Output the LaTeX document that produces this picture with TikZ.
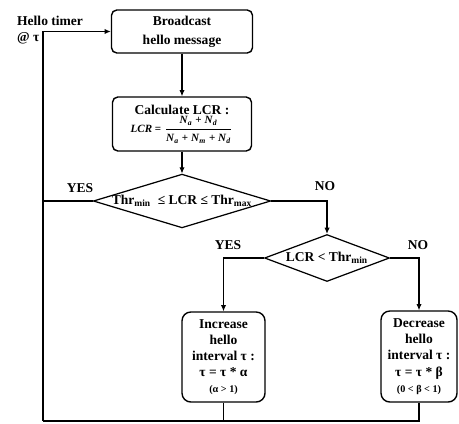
\documentclass[tikz,border=0pt]{standalone}
\usepackage{fontspec}
\setmainfont{Liberation Serif}
\usepackage{amsmath}
\usepackage{tikz}
\usetikzlibrary{shapes.geometric, arrows.meta, calc}
\tikzset{
	labeltext/.style={font=\fontsize{7.7}{9.2}\selectfont\bfseries}
}
\tikzset{
	flow/.style={line width=0.6pt}
}
\newcommand{\Nsub}[1]{\textit{N}\textsubscript{\textit{#1}}}

\begin{document}
\begin{tikzpicture}[x=0.02cm, y=-0.02cm]

              \tikzset{
                procnode/.style={
                    shape=rectangle,
                    rounded corners=3pt,
                    draw=black,
                    line width=0.8pt,
                    align=center,
                    inner sep=0pt,
                    labeltext
                  },
                testnode/.style={
                    shape=diamond,
                    draw=black,
                    line width=0.7pt,
                    inner sep=0pt,
                    labeltext
                  },
                flowarrow/.style={flow, -{Latex[length=3.5pt,width=3pt]}}
              }

              \useasboundingbox (0,0) rectangle (459,423);

              \node[procnode, minimum width=2.82cm, minimum height=0.86cm] (bcast) at (182,31.5) {Broadcast\\[1.5pt]hello message};
              \node[procnode, minimum width=2.78cm, minimum height=1.08cm] (calc) at (182,124) {Calculate LCR :\\[1pt]{\fontsize{6.3}{7}\selectfont\textit{LCR} = $\dfrac{\text{\Nsub{a} + \Nsub{d}}}{\text{\Nsub{a} + \Nsub{m} + \Nsub{d}}}$}};
              \node[testnode, shape aspect=3.3, minimum width=3.4cm, minimum height=1.04cm] (chk) at (182,201) {Thr\textsubscript{min}\ \ ≤ LCR ≤ Thr\textsubscript{max}};
              \node[testnode, shape aspect=2.7, minimum width=2.5cm, minimum height=0.94cm] (cmp) at (327,258) {LCR < Thr\textsubscript{min}};
              \node[procnode, rounded corners=5pt, minimum width=1.66cm, minimum height=1.8cm] (inc) at (223.5,357) {Increase\\hello\\interval τ :\\τ = τ * α\\{\fontsize{5.8}{6.8}\selectfont (α > 1)}};
              \node[procnode, rounded corners=5pt, minimum width=1.52cm, minimum height=1.82cm] (dec) at (419,356.5) {Decrease\\hello\\interval τ :\\τ = τ * β\\{\fontsize{5.8}{6.8}\selectfont (0 < β < 1)}};

              \node[labeltext, align=left, anchor=west] (timer) at (11,30) {Hello timer\\@ τ};
              \node[labeltext] (yes1) at (80,188) {YES};
              \node[labeltext] (no1) at (325,186) {NO};
              \node[labeltext] (yes2) at (228,245) {YES};
              \node[labeltext] (no2) at (418,245) {NO};

              \coordinate (bl) at (43,421);

              \draw[flowarrow] (bl) |- (bcast.west);
              \draw[flowarrow] (bcast) -- (calc);
              \draw[flowarrow] (calc) -- (chk);
              \draw[flow] (chk.west) -- (chk.west -| bl);
              \draw[flowarrow] (chk.east) -| (cmp.north);
              \draw[flowarrow] (cmp.west) -| (inc.north);
              \draw[flowarrow] (cmp.east) -| (dec.north);
              \draw[flow] (inc.south) -- (inc.south |- bl);
              \draw[flow] (dec.south) |- (bl);
            \end{tikzpicture}
\end{document}
